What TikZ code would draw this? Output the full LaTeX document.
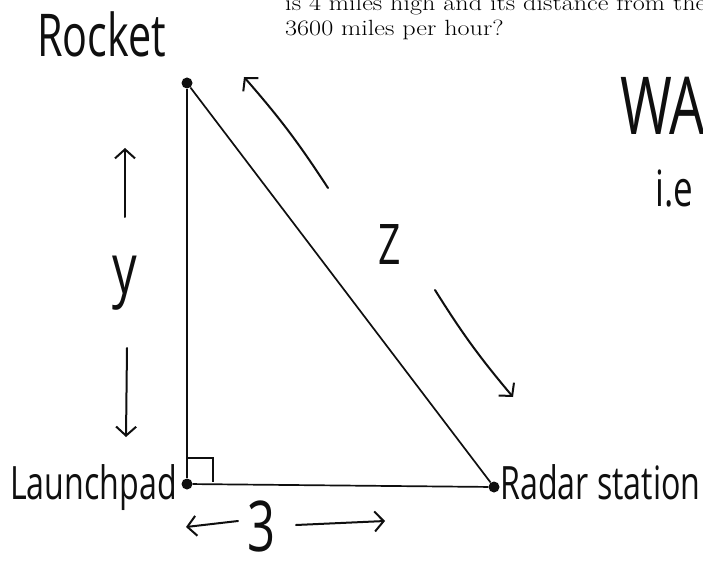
\documentclass[tikz,border=0pt]{standalone}
\usepackage{fontspec}
\usepackage{graphicx}
\usepackage{tikz}
\usetikzlibrary{positioning, arrows.meta, calc}
\newfontfamily\handfont{Open Sans}[FakeStretch=0.7]
\definecolor{InkBlack}{RGB}{15,15,15}

\begin{document}
\begin{tikzpicture}[x=1pt, y=-1pt,
    print/.style={anchor=base west, inner sep=0pt, font=\fontsize{22}{22}\selectfont},
    hand/.style={inner sep=0pt, text=InkBlack, font=\handfont\fontsize{#1}{#1}\selectfont},
    dot/.style={circle, fill=InkBlack, inner sep=0pt, minimum size=11pt},
    side/.style={InkBlack, line width=1.7pt},
    marrow/.style={InkBlack, line width=2pt, line cap=round,
      -{Straight Barb[length=9pt, width=20pt, line width=2pt]}}]
  \useasboundingbox (0,0) rectangle (703,569);

  % printed question, cut off by the page edge
  \node[print] (qline1) at (285,11) {\scalebox{1.19}[1]{is 4 miles high and its distance from the}};
  \node[print] (qline2) at (285,36) {\scalebox{1.19}[1]{3600 miles per hour?}};

  % corners of the triangle
  \node[dot] (rocket) at (187,83) {};
  \node[dot] (pad) at (187,484) {};
  \node[dot] (radar) at (494,487) {};
  \draw[side] (rocket) -- (pad);
  \draw[side] (pad) -- (radar);
  \draw[side] (radar) -- (rocket);
  % right angle mark
  \draw[side] ([yshift=26pt]pad.center) -| ([xshift=26pt, yshift=2pt]pad.center);

  % labels
  \node[hand=59, anchor=base west] (rocketlbl) at (37,57) {Rocket};
  \node[hand=46, anchor=base west] (padlbl) at (10,499) {Launchpad};
  \node[hand=46, anchor=base west] (radarlbl) at (500,499) {Radar station};
  \node[hand=80, anchor=base west] (wantlbl) at (620,135) {WAN};
  \node[hand=50, anchor=base west] (ielbl) at (655,207) {i.e};
  \node[hand=70] (ylbl) at (125,283) {y};
  \node[hand=56] (zlbl) at (390,245) {Z};
  \node[hand=70] (xlbl) at (262,526) {3};

  % arrows along the sides
  \coordinate (yup-a) at (125,217);
  \coordinate (yup-b) at (125,148);
  \coordinate (ydn-a) at (127,348);
  \coordinate (ydn-b) at (126,437);
  \coordinate (zup-a) at (328,188);
  \coordinate (zup-b) at (244,77);
  \coordinate (zdn-a) at (435,290);
  \coordinate (zdn-b) at (513,397);
  \coordinate (xl-a) at (238,521);
  \coordinate (xl-b) at (186,527);
  \coordinate (xr-a) at (296,525);
  \coordinate (xr-b) at (385,521);
  \draw[marrow] (yup-a) -- (yup-b);
  \draw[marrow] (ydn-a) -- (ydn-b);
  \draw[marrow] (zup-a) to[bend right=4] (zup-b);
  \draw[marrow] (zdn-a) to[bend right=4] (zdn-b);
  \draw[marrow] (xl-a) -- (xl-b);
  \draw[marrow] (xr-a) -- (xr-b);
\end{tikzpicture}
\end{document}
